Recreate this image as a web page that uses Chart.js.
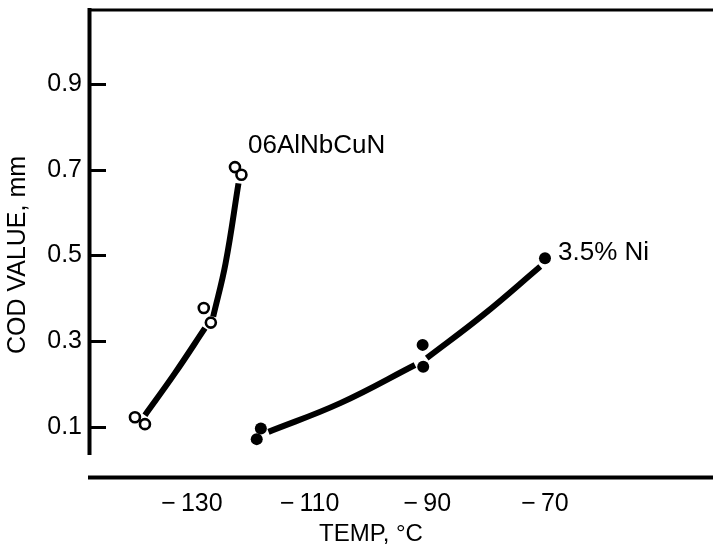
<!DOCTYPE html>
<html lang="en">
<head>
  <meta charset="UTF-8" />
  <title>COD value vs temperature</title>
  <script src="https://cdn.jsdelivr.net/npm/chart.js"></script>
  <style>
    html, body { margin: 0; padding: 0; background: #fff; }
    canvas { display: block; }
  </style>
</head>
<body>
  <canvas id="codChart" width="713" height="553"></canvas>

<script>
  // --- Data ---
  const xTicks = [-130, -110, -90, -70];
  const xTickLabels = ["\u2212\u2009130", "\u2212\u2009110", "\u2212\u200990", "\u2212\u200970"];
  const yTicks = [0.1, 0.3, 0.5, 0.7, 0.9];
  const yTickLabels = ["0.1", "0.3", "0.5", "0.7", "0.9"];

  // 06AlNbCuN (open circles)
  const alPointsX = [-139.7, -138.0, -128.0, -126.8, -122.7, -121.6];
  const alPointsY = [0.122, 0.106, 0.377, 0.343, 0.706, 0.688];
  const alCurveLowX = [-138.0, -132.9, -127.8];
  const alCurveLowY = [0.127, 0.225, 0.330];
  const alCurveHighX = [-126.4, -124.3, -122.1];
  const alCurveHighY = [0.357, 0.481, 0.668];

  // 3.5% Ni (filled circles)
  const niPointsX = [-119.0, -118.3, -90.8, -90.7, -70.0];
  const niPointsY = [0.071, 0.096, 0.291, 0.240, 0.493];
  const niCurveLowX = [-117.0, -104.8, -92.1];
  const niCurveLowY = [0.088, 0.155, 0.244];
  const niCurveHighX = [-90.1, -80.5, -70.8];
  const niCurveHighY = [0.260, 0.361, 0.474];

  const seriesLabels = ["06AlNbCuN", "3.5% Ni"];

  const FONT = "'Liberation Sans', Arial, Helvetica, sans-serif";
  const toXY = (xs, ys) => xs.map((x, i) => ({ x: x, y: ys[i] }));

  function curve(xs, ys) {
    return {
      data: toXY(xs, ys),
      borderColor: "#000",
      borderWidth: 6,
      borderCapStyle: "butt",
      tension: 0.4,
      pointRadius: 0,
      fill: false,
      order: 2
    };
  }

  // axes frame, inward ticks and the two curve labels
  const frame = {
    id: "frame",
    afterDraw(chart) {
      const { ctx, chartArea: a, scales: { x, y } } = chart;
      ctx.save();
      ctx.strokeStyle = "#000";
      ctx.lineCap = "butt";

      ctx.lineWidth = 3;
      ctx.beginPath();
      ctx.moveTo(a.left, a.top - 23);
      ctx.lineTo(chart.width, a.top - 23);
      ctx.stroke();

      ctx.lineWidth = 4;
      ctx.beginPath();
      ctx.moveTo(a.left + 1.5, a.top - 25);
      ctx.lineTo(a.left + 1.5, a.bottom - 22);
      ctx.stroke();

      ctx.beginPath();
      ctx.moveTo(a.left, a.bottom + 0.5);
      ctx.lineTo(chart.width, a.bottom + 0.5);
      ctx.stroke();

      ctx.lineWidth = 3;
      yTicks.forEach(v => {
        const py = Math.round(y.getPixelForValue(v)) + 0.5;
        ctx.beginPath();
        ctx.moveTo(a.left, py);
        ctx.lineTo(a.left + 18, py);
        ctx.stroke();
      });

      ctx.fillStyle = "#000";
      ctx.font = "26px " + FONT;
      ctx.textBaseline = "middle";
      ctx.textAlign = "left";
      ctx.fillText(seriesLabels[0], x.getPixelForValue(alPointsX[4]) + 13, y.getPixelForValue(alPointsY[4]) - 21);
      ctx.fillText(seriesLabels[1], x.getPixelForValue(niPointsX[4]) + 13, y.getPixelForValue(niPointsY[4]) - 6);
      ctx.restore();
    }
  };

  new Chart(document.getElementById("codChart"), {
    type: "line",
    data: {
      datasets: [
        curve(alCurveLowX, alCurveLowY),
        curve(alCurveHighX, alCurveHighY),
        curve(niCurveLowX, niCurveLowY),
        curve(niCurveHighX, niCurveHighY),
        {
          data: toXY(alPointsX, alPointsY),
          showLine: false,
          pointRadius: 5,
          pointBorderWidth: 2.6,
          pointBorderColor: "#000",
          pointBackgroundColor: "#fff",
          order: 0
        },
        {
          data: toXY(niPointsX, niPointsY),
          showLine: false,
          pointRadius: 6,
          pointBorderWidth: 0,
          pointBackgroundColor: "#000",
          order: 0
        }
      ]
    },
    options: {
      responsive: false,
      animation: false,
      layout: { padding: { top: 33, right: 59, left: 0, bottom: 0 } },
      plugins: { legend: { display: false }, tooltip: { enabled: false } },
      scales: {
        x: {
          type: "linear",
          min: -147.68,
          max: -51.47,
          grid: { display: false, drawTicks: false },
          border: { display: false },
          afterBuildTicks: s => { s.ticks = xTicks.map(v => ({ value: v })); },
          afterFit: s => { s.height = 76; },
          ticks: {
            color: "#000",
            padding: 12,
            maxRotation: 0,
            font: { family: FONT, size: 25 },
            callback: (v, i) => xTickLabels[i]
          },
          title: {
            display: true,
            text: "TEMP, \u00B0C",
            color: "#000",
            padding: { top: 0, bottom: 4 },
            font: { family: FONT, size: 24 }
          }
        },
        y: {
          type: "linear",
          min: -0.0174,
          max: 1.019,
          grid: { display: false, drawTicks: false },
          border: { display: false },
          afterBuildTicks: s => { s.ticks = yTicks.map(v => ({ value: v })); },
          afterFit: s => { s.width = 88; },
          ticks: {
            color: "#000",
            padding: 6,
            font: { family: FONT, size: 25 },
            callback: (v, i) => yTickLabels[i]
          },
          title: {
            display: true,
            text: "COD VALUE, mm",
            color: "#000",
            padding: { top: 3, bottom: 0 },
            font: { family: FONT, size: 25 }
          }
        }
      }
    },
    plugins: [frame]
  });
</script>
</body>
</html>
